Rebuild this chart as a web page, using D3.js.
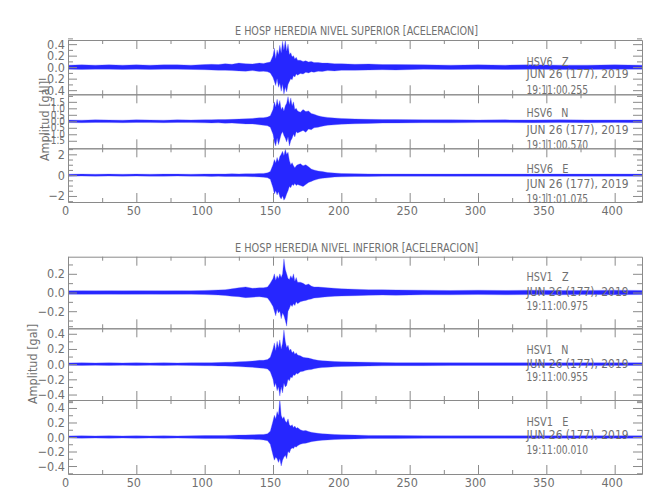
<!DOCTYPE html>
<html><head><meta charset="utf-8">
<script src="https://cdn.jsdelivr.net/npm/d3@7"></script>
<style>
body{margin:0;background:#fff}
text{font-family:"Liberation Sans Narrow","DejaVu Sans Condensed",sans-serif;fill:#707070}
</style>
</head><body><svg id="c" width="650" height="500"></svg>
<script>
// ---- data ----
const times = [0,10,20,30,40,50,60,70,80,90,100, 105,110,115,120,125,130,135,140, 143,146,148,
 150,151,152,153,154,155,156,157,158,159,160,161,162,163,164,165,166,167,168,
 170,172,174,176,178,180, 183,186,190,195,200, 210,220,230,240, 260,280,300,320,340,360,380,400,420];

const topZUp = [0.035,0.04,0.035,0.04,0.035,0.04,0.035,0.04,0.04,0.035,0.045, 0.05,0.045,0.06,0.05,0.07,0.06,0.055,0.07, 0.065,0.08,0.09,
 0.20,0.33,0.15,0.30,0.22,0.38,0.25,0.45,0.30,0.47,0.28,0.40,0.22,0.25,0.18,0.20,0.14,0.17,0.12,
 0.12,0.10,0.11,0.09,0.10,0.08, 0.08,0.07,0.07,0.06,0.06, 0.05,0.055,0.045,0.045, 0.04,0.035,0.04,0.035,0.04,0.035,0.035,0.04,0.035];
const topZLo = [-0.035,-0.04,-0.035,-0.035,-0.04,-0.035,-0.04,-0.035,-0.035,-0.04,-0.045, -0.05,-0.055,-0.055,-0.06,-0.065,-0.07,-0.06,-0.075, -0.07,-0.08,-0.1,
 -0.18,-0.25,-0.32,-0.20,-0.35,-0.28,-0.42,-0.30,-0.47,-0.35,-0.43,-0.30,-0.25,-0.20,-0.22,-0.15,-0.17,-0.12,-0.14,
 -0.11,-0.12,-0.09,-0.1,-0.08,-0.09, -0.07,-0.075,-0.06,-0.065,-0.055, -0.055,-0.05,-0.045,-0.05, -0.035,-0.04,-0.035,-0.04,-0.035,-0.04,-0.04,-0.035,-0.035];

const topNUp = [0.1,0.09,0.11,0.1,0.09,0.11,0.1,0.09,0.11,0.1,0.12, 0.12,0.13,0.13,0.15,0.17,0.19,0.22,0.27, 0.28,0.33,0.42,
 0.9,1.5,1.1,1.7,1.2,1.6,0.9,1.1,0.8,1.2,1.4,1.9,1.3,1.8,1.2,1.5,0.9,1.0,0.8,
 0.7,0.9,0.75,0.8,0.6,0.55, 0.42,0.36,0.3,0.25,0.22, 0.18,0.15,0.14,0.13, 0.12,0.11,0.1,0.11,0.1,0.11,0.1,0.1,0.1];
const topNLo = [-0.1,-0.11,-0.09,-0.1,-0.11,-0.09,-0.1,-0.11,-0.09,-0.1,-0.12, -0.13,-0.12,-0.15,-0.14,-0.17,-0.2,-0.2,-0.27, -0.3,-0.35,-0.45,
 -1.0,-1.6,-1.9,-1.3,-1.8,-1.4,-1.0,-0.8,-1.1,-1.3,-1.6,-1.2,-1.9,-1.5,-1.3,-1.0,-1.2,-0.8,-0.9,
 -0.8,-0.7,-0.85,-0.6,-0.65,-0.5, -0.45,-0.38,-0.3,-0.27,-0.22, -0.19,-0.16,-0.14,-0.13, -0.11,-0.12,-0.1,-0.1,-0.11,-0.1,-0.11,-0.1,-0.11];

const topEUp = [0.09,0.1,0.09,0.1,0.09,0.1,0.09,0.1,0.1,0.09,0.11, 0.11,0.12,0.11,0.13,0.12,0.14,0.13,0.16, 0.17,0.22,0.35,
 1.0,1.5,1.2,1.7,1.3,1.8,2.0,2.3,1.9,2.5,2.0,2.2,1.4,1.0,1.2,0.9,0.7,0.9,1.0,
 1.1,0.9,1.0,0.8,0.6,0.5, 0.4,0.35,0.25,0.2,0.16, 0.14,0.12,0.11,0.11, 0.1,0.1,0.11,0.1,0.1,0.1,0.1,0.11,0.1];
const topELo = [-0.1,-0.09,-0.1,-0.09,-0.1,-0.09,-0.1,-0.1,-0.09,-0.1,-0.1, -0.12,-0.11,-0.13,-0.12,-0.14,-0.13,-0.15,-0.17, -0.19,-0.25,-0.4,
 -1.2,-1.8,-1.5,-1.9,-1.6,-2.1,-2.3,-2.0,-2.4,-2.2,-1.8,-1.5,-1.1,-1.2,-0.9,-1.0,-0.8,-1.0,-0.9,
 -1.0,-1.1,-0.9,-0.7,-0.6,-0.5, -0.38,-0.3,-0.25,-0.18,-0.16, -0.13,-0.12,-0.11,-0.1, -0.1,-0.11,-0.1,-0.1,-0.1,-0.11,-0.1,-0.1,-0.1];

const botZUp = [0.018,0.02,0.018,0.02,0.018,0.02,0.019,0.018,0.02,0.019,0.022, 0.025,0.028,0.03,0.04,0.05,0.06,0.045,0.05, 0.05,0.06,0.1,
 0.15,0.2,0.13,0.18,0.15,0.2,0.16,0.2,0.36,0.25,0.2,0.15,0.14,0.18,0.15,0.2,0.12,0.16,0.11,
 0.11,0.1,0.08,0.09,0.07,0.06, 0.06,0.055,0.05,0.045,0.04, 0.035,0.03,0.03,0.028, 0.025,0.022,0.025,0.022,0.025,0.022,0.022,0.025,0.022];
const botZLo = [-0.018,-0.02,-0.019,-0.018,-0.02,-0.019,-0.018,-0.02,-0.019,-0.018,-0.022, -0.025,-0.028,-0.032,-0.04,-0.045,-0.055,-0.05,-0.045, -0.05,-0.06,-0.1,
 -0.15,-0.2,-0.25,-0.18,-0.22,-0.2,-0.28,-0.22,-0.25,-0.3,-0.36,-0.2,-0.17,-0.13,-0.15,-0.12,-0.14,-0.1,-0.12,
 -0.1,-0.09,-0.085,-0.075,-0.07,-0.06, -0.055,-0.05,-0.045,-0.04,-0.038, -0.034,-0.03,-0.028,-0.03, -0.024,-0.025,-0.022,-0.025,-0.022,-0.025,-0.022,-0.024,-0.022];

const botNUp = [0.016,0.018,0.016,0.018,0.016,0.018,0.016,0.018,0.016,0.018,0.02, 0.02,0.022,0.024,0.026,0.03,0.035,0.04,0.05, 0.05,0.06,0.09,
 0.2,0.28,0.18,0.3,0.22,0.32,0.2,0.28,0.45,0.3,0.22,0.25,0.18,0.2,0.15,0.17,0.13,0.15,0.12,
 0.11,0.09,0.085,0.08,0.07,0.06, 0.05,0.045,0.04,0.035,0.03, 0.028,0.025,0.022,0.02, 0.02,0.018,0.017,0.018,0.017,0.017,0.018,0.017,0.017];
const botNLo = [-0.016,-0.018,-0.016,-0.018,-0.016,-0.018,-0.016,-0.018,-0.016,-0.018,-0.02, -0.021,-0.023,-0.025,-0.028,-0.032,-0.036,-0.042,-0.05, -0.055,-0.065,-0.1,
 -0.2,-0.3,-0.25,-0.35,-0.3,-0.42,-0.3,-0.38,-0.25,-0.3,-0.28,-0.2,-0.22,-0.17,-0.18,-0.14,-0.15,-0.12,-0.13,
 -0.1,-0.095,-0.08,-0.075,-0.07,-0.06, -0.05,-0.045,-0.04,-0.035,-0.03, -0.028,-0.025,-0.022,-0.02, -0.02,-0.018,-0.017,-0.018,-0.017,-0.018,-0.017,-0.017,-0.017];

const botEUp = [0.015,0.016,0.015,0.016,0.015,0.016,0.015,0.016,0.015,0.016,0.02, 0.02,0.02,0.022,0.024,0.026,0.028,0.03,0.035, 0.035,0.045,0.08,
 0.22,0.3,0.25,0.35,0.3,0.53,0.3,0.25,0.28,0.22,0.2,0.25,0.17,0.15,0.17,0.13,0.15,0.12,0.13,
 0.1,0.085,0.09,0.075,0.065,0.06, 0.05,0.045,0.04,0.035,0.03, 0.026,0.022,0.02,0.02, 0.018,0.016,0.017,0.016,0.016,0.017,0.016,0.016,0.016];
const botELo = [-0.015,-0.016,-0.015,-0.016,-0.015,-0.016,-0.015,-0.016,-0.015,-0.016,-0.02, -0.02,-0.021,-0.022,-0.025,-0.027,-0.03,-0.032,-0.036, -0.04,-0.05,-0.1,
 -0.25,-0.32,-0.28,-0.3,-0.35,-0.3,-0.4,-0.32,-0.28,-0.25,-0.3,-0.2,-0.22,-0.17,-0.15,-0.16,-0.13,-0.14,-0.12,
 -0.1,-0.09,-0.085,-0.075,-0.065,-0.06, -0.05,-0.045,-0.04,-0.035,-0.03, -0.026,-0.022,-0.02,-0.02, -0.018,-0.016,-0.017,-0.016,-0.016,-0.017,-0.016,-0.016,-0.016];

// tick values
const xMajor = [0,50,100,150,200,250,300,350,400];
const xMinor = [25,75,125,175,225,275,325,375];
const ticksTopZ = [-0.4,-0.2,0,0.2,0.4];
const ticksTopN = [-1.5,-1.0,-0.5,0,0.5,1.0,1.5];
const ticksTopE = [-2,0,2];
const minorTopE = [-2.5,-1.5,-1,-0.5,0.5,1,1.5,2.5];
const ticksBotZ = [-0.2,0,0.2];
const ticksBot = [-0.4,-0.2,0,0.2,0.4];
const minorP1 = [-0.3,-0.1,0.1,0.3];
const minorP1b = [-0.5,-0.3,-0.1,0.1,0.3,0.5];

const titles = ["E HOSP HEREDIA NIVEL SUPERIOR [ACELERACION]","E HOSP HEREDIA NIVEL INFERIOR [ACELERACION]"];
const stations = ["HSV6   Z","HSV6   N","HSV6   E","HSV1   Z","HSV1   N","HSV1   E"];
const dateLine = "JUN 26 (177), 2019";
const startTimes = ["19:11:00.255","19:11:00.570","19:11:01.075","19:11:00.975","19:11:00.955","19:11:00.010"];
const yTitle = "Amplitud [gal]";

// ---- drawing ----
const svg = d3.select("#c");
const axisCol = "#8a8a8a";
const x = d3.scaleLinear().domain([0,420]).range([68,642]);

const panels = [
 {up:topZUp, lo:topZLo, y0:40, y1:94.3, dom:0.472, maj:ticksTopZ, min:minorP1b, fmt:d3.format(".1f"), xl:false, fs:12.5},
 {up:topNUp, lo:topNLo, y0:94.3, y1:148.3, dom:2.08, maj:ticksTopN, min:[], fmt:d3.format(".1f"), xl:false, fs:10},
 {up:topEUp, lo:topELo, y0:148.3, y1:202, dom:2.58, maj:ticksTopE, min:minorTopE, fmt:d3.format("d"), xl:true, fs:12.5},
 {up:botZUp, lo:botZLo, y0:256.7, y1:328.3, dom:0.383, maj:ticksBotZ, min:minorP1, fmt:d3.format(".1f"), xl:false, fs:12.5},
 {up:botNUp, lo:botNLo, y0:328.3, y1:400, dom:0.472, maj:ticksBot, min:minorP1b, fmt:d3.format(".1f"), xl:false, fs:12.5},
 {up:botEUp, lo:botELo, y0:400, y1:474, dom:0.51, maj:ticksBot, min:minorP1b, fmt:d3.format(".1f"), xl:true, fs:12.5}
];
const annY = [[61.7,73.3,90],[112.7,129.3,145],[168.3,183.3,198.3],[276.7,291.7,305.7],[350,364,376.7],[421.7,435,450]];

function styleAxis(g, fs){
  g.selectAll("path,line").attr("stroke",axisCol).attr("stroke-width",1);
  g.selectAll("text").attr("fill","#707070").attr("font-size",fs||12.5)
   .attr("font-family",'"Liberation Sans Narrow","DejaVu Sans Condensed",sans-serif');
}
const minus = s => s.replace("-","\u2212");

panels.forEach((p,k)=>{
  const y = d3.scaleLinear().domain([-p.dom,p.dom]).range([p.y1,p.y0]);
  const cid = "clip"+k;
  svg.append("clipPath").attr("id",cid).append("rect")
    .attr("x",68).attr("y",p.y0).attr("width",574).attr("height",p.y1-p.y0);
  const area = d3.area().x((d,i)=>x(times[i])).y0((d,i)=>y(p.lo[i])).y1((d,i)=>y(p.up[i]));
  const g = svg.append("g").attr("clip-path",`url(#${cid})`);
  g.append("path").datum(times).attr("d",area).attr("fill","#0000ff").attr("fill-opacity",0.85)
    .attr("stroke","#5555ff").attr("stroke-width",0.4).attr("stroke-opacity",0.8);

  // left axis
  const la = svg.append("g").attr("transform","translate(68,0)")
    .call(d3.axisLeft(y).tickValues(p.maj).tickSizeInner(-9).tickSizeOuter(0).tickPadding(3).tickFormat(d=>minus(p.fmt(d))));
  styleAxis(la, p.fs);
  if(p.min.length){
    const lm = svg.append("g").attr("transform","translate(68,0)")
      .call(d3.axisLeft(y).tickValues(p.min).tickSizeInner(-5).tickSizeOuter(0).tickFormat(""));
    styleAxis(lm); lm.select("path").remove();
  }
  const ra = svg.append("g").attr("transform","translate(642,0)")
    .call(d3.axisRight(y).tickValues(p.maj).tickSizeInner(-9).tickSizeOuter(0).tickFormat(""));
  styleAxis(ra);
  if(p.min.length){
    const rm = svg.append("g").attr("transform","translate(642,0)")
      .call(d3.axisRight(y).tickValues(p.min).tickSizeInner(-5).tickSizeOuter(0).tickFormat(""));
    styleAxis(rm); rm.select("path").remove();
  }
  // top & bottom x axes
  [["t",p.y0],["b",p.y1]].forEach(([side,yy])=>{
    const mk = side==="t"?d3.axisTop:d3.axisBottom;
    const showLbl = side==="b" && p.xl;
    const a = svg.append("g").attr("transform",`translate(0,${yy})`)
      .call(mk(x).tickValues(xMajor).tickSizeInner(-9).tickSizeOuter(0).tickPadding(4).tickFormat(showLbl?d3.format("d"):""));
    styleAxis(a);
    if(showLbl) a.selectAll("text").attr("dx",-3);
    const m = svg.append("g").attr("transform",`translate(0,${yy})`)
      .call(mk(x).tickValues(xMinor).tickSizeInner(-4).tickSizeOuter(0).tickFormat(""));
    styleAxis(m); m.select("path").remove();
  });
  // annotations
  const ay = annY[k];
  const txt = (s,yy,w)=>svg.append("text").attr("x",526.5).attr("y",yy).attr("dy","0.35em")
    .attr("font-size",12).style("white-space","pre").attr("textLength",w).attr("lengthAdjust","spacingAndGlyphs").text(s);
  txt(stations[k],ay[0],42);
  txt(dateLine,ay[1],102);
  txt(startTimes[k],ay[2],61.5);
});

// titles
svg.append("text").attr("x",356.5).attr("y",30).attr("dy","0.35em").attr("text-anchor","middle")
  .attr("font-size",13).attr("textLength",243).attr("lengthAdjust","spacingAndGlyphs").text(titles[0]);
svg.append("text").attr("x",356.5).attr("y",247).attr("dy","0.35em").attr("text-anchor","middle")
  .attr("font-size",13).attr("textLength",243).attr("lengthAdjust","spacingAndGlyphs").text(titles[1]);
// y titles
svg.append("text").attr("transform","translate(45,121) rotate(-90)").attr("dy","0.35em").attr("text-anchor","middle")
  .attr("font-size",12.5).text(yTitle);
svg.append("text").attr("transform","translate(33,364) rotate(-90)").attr("dy","0.35em").attr("text-anchor","middle")
  .attr("font-size",12.5).text(yTitle);
</script></body></html>
